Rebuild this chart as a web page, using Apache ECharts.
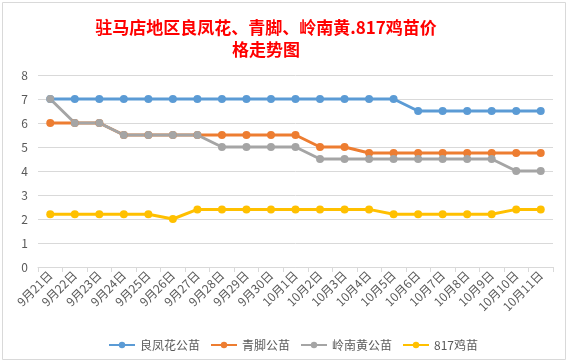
<!DOCTYPE html>
<html><head><meta charset="utf-8">
<script src="https://cdn.jsdelivr.net/npm/echarts@6/dist/echarts.min.js"></script>
<style>html,body{margin:0;padding:0;background:#fff}#c{width:571px;height:364px}</style>
</head><body><div id="c"></div>
<script>
const categories = ['9月21日','9月22日','9月23日','9月24日','9月25日','9月26日','9月27日','9月28日','9月29日','9月30日','10月1日','10月2日','10月3日','10月4日','10月5日','10月6日','10月7日','10月8日','10月9日','10月10日','10月11日'];
const seriesNames = ['良凤花公苗','青脚公苗','岭南黄公苗','817鸡苗'];
const lianfenghua = [7,7,7,7,7,7,7,7,7,7,7,7,7,7,7,6.5,6.5,6.5,6.5,6.5,6.5];
const qingjiao = [6,6,6,5.5,5.5,5.5,5.5,5.5,5.5,5.5,5.5,5,5,4.75,4.75,4.75,4.75,4.75,4.75,4.75,4.75];
const lingnanhuang = [7,6,6,5.5,5.5,5.5,5.5,5,5,5,5,4.5,4.5,4.5,4.5,4.5,4.5,4.5,4.5,4,4];
const ji817 = [2.2,2.2,2.2,2.2,2.2,2.0,2.4,2.4,2.4,2.4,2.4,2.4,2.4,2.4,2.2,2.2,2.2,2.2,2.2,2.4,2.4];
const yTicks = [0,1,2,3,4,5,6,7,8];
const colors = ['#5B9BD5','#ED7D31','#A5A5A5','#FFC000'];
const dataArr = [lianfenghua, qingjiao, lingnanhuang, ji817];

const chart = echarts.init(document.getElementById('c'));
const font = "'Noto Sans CJK SC', 'Microsoft YaHei', sans-serif";
chart.setOption({
  animation: false,
  color: colors,
  textStyle: {fontFamily: font},
  title: {
    text: '驻马店地区良凤花、青脚、岭南黄.817鸡苗价\n格走势图',
    left: 261, top: 12, textAlign: 'center',
    textStyle: {color: '#FF0000', fontSize: 17, fontWeight: 'bold', lineHeight: 22, fontFamily: font}
  },
  graphic: [{
    type: 'rect', shape: {x: 2.5, y: 2.5, width: 563, height: 357},
    style: {fill: 'none', stroke: '#D9D9D9', lineWidth: 1}, silent: true
  }],
  legend: {
    left: 103, top: 334, itemWidth: 26, itemHeight: 8, itemGap: 10,
    textStyle: {color: '#595959', fontSize: 12, fontFamily: font},
    data: seriesNames
  },
  grid: {left: 38, right: 18, top: 75, bottom: 97, containLabel: false},
  xAxis: {
    type: 'category', data: categories, boundaryGap: true,
    axisLine: {lineStyle: {color: '#D9D9D9'}},
    axisTick: {show: true, length: 5, lineStyle: {color: '#D9D9D9'}},
    axisLabel: {rotate: 45, color: '#595959', fontSize: 12, interval: 0, margin: 6, fontFamily: font}
  },
  yAxis: {
    type: 'value', min: yTicks[0], max: yTicks[yTicks.length-1], interval: 1,
    axisLine: {show: false}, axisTick: {show: false},
    splitLine: {lineStyle: {color: '#D9D9D9'}},
    axisLabel: {color: '#595959', fontSize: 12, margin: 10, fontFamily: font}
  },
  series: seriesNames.map((n, i) => ({
    name: n, type: 'line', data: dataArr[i],
    symbol: 'circle', symbolSize: 8,
    lineStyle: {width: 3, color: colors[i]},
    itemStyle: {color: colors[i]}
  }))
});
</script></body></html>
